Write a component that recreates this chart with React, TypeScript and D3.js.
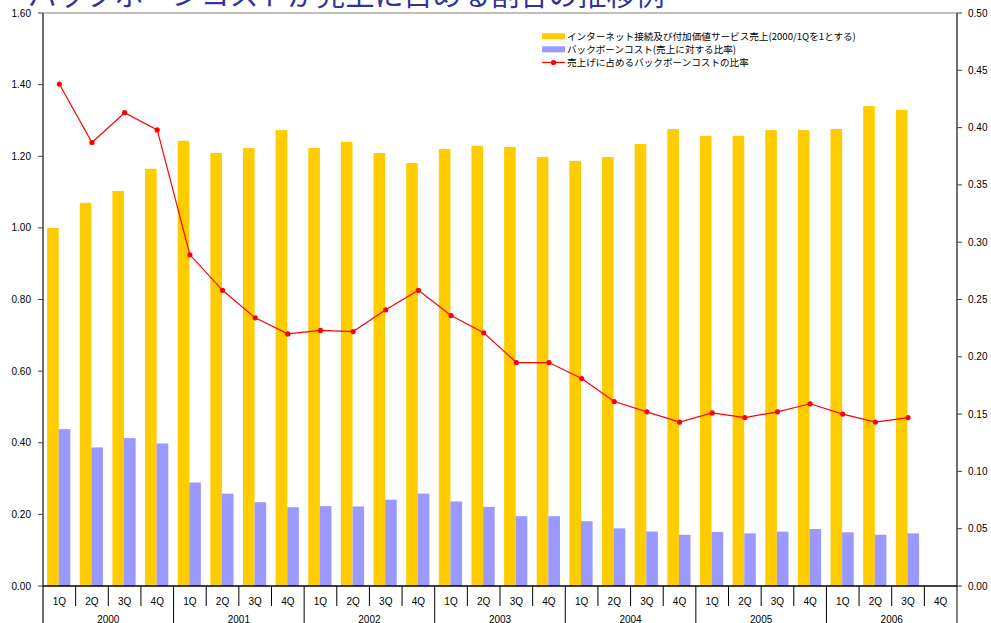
import React from "react";
import * as d3 from "d3";

const years = ["2000", "2001", "2002", "2003", "2004", "2005", "2006"];
const quarters = ["1Q", "2Q", "3Q", "4Q"];
const sales: (number | null)[] = [
  1.0, 1.07, 1.103, 1.165,
  1.243, 1.209, 1.223, 1.273,
  1.223, 1.24, 1.209, 1.181,
  1.22, 1.229, 1.226, 1.198,
  1.187, 1.198, 1.234, 1.276,
  1.257, 1.257, 1.273, 1.273,
  1.276, 1.34, 1.329, null,
];
const costRatio: (number | null)[] = [
  0.438, 0.387, 0.413, 0.398,
  0.289, 0.258, 0.234, 0.22,
  0.223, 0.222, 0.241, 0.258,
  0.236, 0.221, 0.195, 0.195,
  0.181, 0.161, 0.152, 0.143,
  0.151, 0.147, 0.152, 0.159,
  0.15, 0.143, 0.147, null,
];
const leftTicks = [0, 0.2, 0.4, 0.6, 0.8, 1.0, 1.2, 1.4, 1.6];
const rightTicks = [0, 0.05, 0.1, 0.15, 0.2, 0.25, 0.3, 0.35, 0.4, 0.45, 0.5];
const title = "バックボーンコストが売上に占める割合の推移例";
const legendLabels = [
  "インターネット接続及び付加価値サービス売上(2000/1Qを1とする)",
  "バックボーンコスト(売上に対する比率)",
  "売上げに占めるバックボーンコストの比率",
];

const W = 991, H = 623;
const L = 43, R = 957, T = 13, B = 586;
const YELLOW = "#FFCC00", BLUE = "#9999FF", RED = "#FF0000";
const latin = "'Liberation Sans', Arial, sans-serif";
const cjk = "'Noto Sans CJK JP', sans-serif";

export default function App() {
  const n = years.length * quarters.length;
  const idx = d3.range(n);
  const x = d3.scaleBand<number>().domain(idx).range([L, R]).paddingInner(0).paddingOuter(0);
  const yL = d3.scaleLinear().domain([0, 1.6]).range([B, T]);
  const yR = d3.scaleLinear().domain([0, 0.5]).range([B, T]);
  const bw = 11.6;
  const cx = (i: number) => (x(i) as number) + x.bandwidth() / 2;

  const line = d3
    .line<number>()
    .defined((i) => costRatio[i] != null)
    .x((i) => cx(i))
    .y((i) => yR(costRatio[i] as number));

  const yearW = x.bandwidth() * 4;

  return (
    <svg width={W} height={H} style={{ position: "absolute", left: 0, top: 0, background: "#fff" }}>
      <text x={28} y={6} fontFamily={cjk} fontSize={29} fill="#333399">{title}</text>

      {/* bars */}
      {idx.map((i) => (
        <g key={i}>
          {sales[i] != null && (
            <rect x={cx(i) - bw - 0.6} y={yL(sales[i] as number)} width={bw} height={B - yL(sales[i] as number)} fill={YELLOW} />
          )}
          {costRatio[i] != null && (
            <rect x={cx(i) - 0.6} y={yL(costRatio[i] as number)} width={bw} height={B - yL(costRatio[i] as number)} fill={BLUE} />
          )}
        </g>
      ))}

      {/* frame */}
      <line x1={L} x2={R} y1={T} y2={T} stroke="#808080" strokeWidth={1} />
      <line x1={L} x2={L} y1={T} y2={H} stroke="#404040" strokeWidth={1.5} />
      <line x1={R} x2={R} y1={T} y2={B} stroke="#404040" strokeWidth={1.5} />
      <line x1={L} x2={R} y1={B} y2={B} stroke="#000" strokeWidth={1.5} />

      {/* left axis */}
      {leftTicks.map((t) => (
        <g key={"l" + t}>
          <line x1={L - 5} x2={L} y1={yL(t)} y2={yL(t)} stroke="#404040" />
          <text x={31} y={yL(t)} dy="0.35em" textAnchor="end" fontFamily={latin} fontSize={10} fill="#000">
            {d3.format(".2f")(t)}
          </text>
        </g>
      ))}
      {/* right axis */}
      {rightTicks.map((t) => (
        <g key={"r" + t}>
          <line x1={R} x2={R + 5} y1={yR(t)} y2={yR(t)} stroke="#404040" />
          <text x={968} y={yR(t)} dy="0.35em" textAnchor="start" fontFamily={latin} fontSize={10} fill="#000">
            {d3.format(".2f")(t)}
          </text>
        </g>
      ))}

      {/* category axis */}
      {idx.map((i) => (
        <g key={"c" + i}>
          <line
            x1={(x(i) as number) + x.bandwidth()}
            x2={(x(i) as number) + x.bandwidth()}
            y1={B}
            y2={(i + 1) % 4 === 0 ? H : 606}
            stroke="#000"
            strokeWidth={1}
          />
          <text x={cx(i)} y={601} dy="0.35em" textAnchor="middle" fontFamily={latin} fontSize={10} fill="#000">
            {quarters[i % 4]}
          </text>
        </g>
      ))}
      {years.map((yv, k) => (
        <text key={yv} x={(x(k * 4) as number) + yearW / 2} y={619} dy="0.35em" textAnchor="middle" fontFamily={latin} fontSize={10} fill="#000">
          {yv}
        </text>
      ))}

      {/* line */}
      <path d={line(idx) || ""} fill="none" stroke={RED} strokeWidth={1.2} />
      {idx.filter((i) => costRatio[i] != null).map((i) => (
        <circle key={"p" + i} cx={cx(i)} cy={yR(costRatio[i] as number)} r={2.6} fill={RED} />
      ))}

      {/* legend */}
      <g>
        <rect x={542} y={33.3} width={23} height={6} fill={YELLOW} />
        <text x={567} y={36.3} dy="0.35em" fontFamily={cjk} fontSize={9.6} fill="#000">{legendLabels[0]}</text>
        <rect x={542} y={46.3} width={23} height={6} fill={BLUE} />
        <text x={567} y={49.3} dy="0.35em" fontFamily={cjk} fontSize={9.6} fill="#000">{legendLabels[1]}</text>
        <line x1={542} x2={565} y1={62.5} y2={62.5} stroke={RED} strokeWidth={1.2} />
        <circle cx={553.5} cy={62.5} r={2.6} fill={RED} />
        <text x={567} y={62.5} dy="0.35em" fontFamily={cjk} fontSize={9.6} fill="#000">{legendLabels[2]}</text>
      </g>
    </svg>
  );
}
